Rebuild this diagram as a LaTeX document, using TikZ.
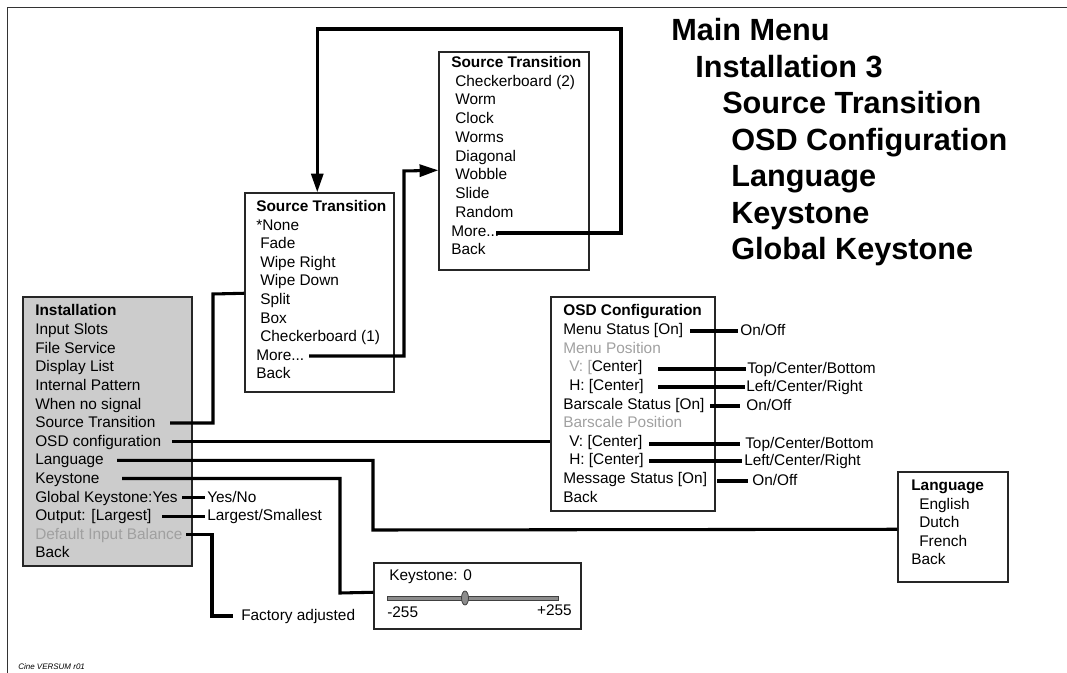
\documentclass[tikz,border=0pt]{standalone}
\usepackage{fontspec}
\setmainfont{Liberation Sans}
\usetikzlibrary{arrows.meta,calc,fit,shapes.geometric}
\definecolor{boxline}{HTML}{262626}
\definecolor{instfill}{HTML}{CCCCCC}
\definecolor{dimtext}{HTML}{A0A0A0}
\definecolor{framecol}{HTML}{333333}
\begin{document}
\begin{tikzpicture}[x=0.75pt,y=-0.75pt,
  txt/.style={inner sep=0pt, anchor=base west, font=\fontsize{11.55}{13.9}\selectfont},
  hdr/.style={txt, font=\fontsize{11.55}{13.9}\selectfont\bfseries},
  dim/.style={txt, text=dimtext},
  ttl/.style={inner sep=0pt, anchor=base west, font=\fontsize{23}{27}\selectfont\bfseries},
  menubox/.style={draw=boxline, line width=1.1pt, inner sep=0pt},
  conn/.style={line width=2.3pt, line join=miter},
  arr/.style={conn, -{Triangle[length=14pt,width=9pt]}},
]
\useasboundingbox (0,0) rectangle (1067,673);
% frame
\draw[framecol, line width=1.2pt] (7.5,673) -- (7.5,7.5) -- (1067,7.5);

% ---------------- boxes
\node[menubox, fill=instfill, fit={(23,297)(192,566)}] (inst) {};
\node[menubox, fit={(245,193)(394,392)}] (st1) {};
\node[menubox, fit={(439,52)(589,270)}] (st2) {};
\node[menubox, fit={(551,297)(715,511)}] (osd) {};
\node[menubox, fit={(898,472)(1008,582)}] (lang) {};
\node[menubox, fit={(374,563)(581,629)}] (ks) {};

% ---------------- installation
\node[hdr] (i0) at (35,316) {Installation};
\node[txt] (i1) at (35,334.6) {Input Slots};
\node[txt] (i2) at (35,353.2) {File Service};
\node[txt] (i3) at (35,371.8) {Display List};
\node[txt] (i4) at (35,390.4) {Internal Pattern};
\node[txt] (i5) at (35,409) {When no signal};
\node[txt] (i6) at (35,427.6) {Source Transition};
\node[txt] (i7) at (35,446.2) {OSD configuration};
\node[txt] (i8) at (35,464.8) {Language};
\node[txt] (i9) at (35,483.4) {Keystone};
\node[txt] (i10) at (35,502) {Global Keystone:Yes};
\node[txt] (i11) at (35,520.6) {Output: [Largest]};
\node[dim] (i12) at (35,539.2) {Default Input Balance};
\node[txt] (i13) at (35,557.8) {Back};

\node[txt] (yesno) at (207,502) {Yes/No};
\node[txt] (larg) at (207,520.6) {Largest/Smallest};
\node[txt] (fact) at (241,620.5) {Factory adjusted};

% ---------------- source transition 1
\node[hdr] (a0) at (256,211.5) {Source Transition};
\node[txt] (a1) at (256,230.1) {*None};
\node[txt] (a2) at (260,248.7) {Fade};
\node[txt] (a3) at (260,267.3) {Wipe Right};
\node[txt] (a4) at (260,285.9) {Wipe Down};
\node[txt] (a5) at (260,304.5) {Split};
\node[txt] (a6) at (260,323.1) {Box};
\node[txt] (a7) at (260,341.7) {Checkerboard (1)};
\node[txt] (a8) at (256,360.3) {More...};
\node[txt] (a9) at (256,378.9) {Back};

% ---------------- source transition 2
\node[hdr] (b0) at (451,67.5) {Source Transition};
\node[txt] (b1) at (455,86.25) {Checkerboard (2)};
\node[txt] (b2) at (455,105) {Worm};
\node[txt] (b3) at (455,123.75) {Clock};
\node[txt] (b4) at (455,142.5) {Worms};
\node[txt] (b5) at (455,161.25) {Diagonal};
\node[txt] (b6) at (455,180) {Wobble};
\node[txt] (b7) at (455,198.75) {Slide};
\node[txt] (b8) at (455,217.5) {Random};
\node[txt] (b9) at (451,236.25) {More...};
\node[txt] (b10) at (451,255) {Back};

% ---------------- OSD configuration
\node[hdr] (o0) at (563,316) {OSD Configuration};
\node[txt] (o1) at (563,334.6) {Menu Status [On]};
\node[dim] (o2) at (563,353.2) {Menu Position};
\node[txt] (o3) at (569,371.8) {{\color{dimtext}V: [}Center]};
\node[txt] (o4) at (569,390.4) {H: [Center]};
\node[txt] (o5) at (563,409) {Barscale Status [On]};
\node[dim] (o6) at (563,427.6) {Barscale Position};
\node[txt] (o7) at (569,446.2) {V: [Center]};
\node[txt] (o8) at (569,464.8) {H: [Center]};
\node[txt] (o9) at (563,483.4) {Message Status [On]};
\node[txt] (o10) at (563,502) {Back};

\node[txt] (l1) at (740,335.5) {On/Off};
\node[txt] (l3) at (747,373.5) {Top/Center/Bottom};
\node[txt] (l4) at (746,391.5) {Left/Center/Right};
\node[txt] (l5) at (746,410.5) {On/Off};
\node[txt] (l7) at (745,448.5) {Top/Center/Bottom};
\node[txt] (l8) at (744,465.5) {Left/Center/Right};
\node[txt] (l9) at (752,485.5) {On/Off};

% ---------------- language
\node[hdr] (g0) at (911,490.5) {Language};
\node[txt] (g1) at (919,509.1) {English};
\node[txt] (g2) at (919,527.7) {Dutch};
\node[txt] (g3) at (919,546.3) {French};
\node[txt] (g4) at (911,564.9) {Back};

% ---------------- keystone
\node[txt] (k0) at (389,580.5) {Keystone: 0};
\node[draw=black!75, fill=black!45, line width=0.6pt, inner sep=0pt, fit={(387,596.2)(558,600)}] (kbar) {};
\node[draw=black!75, fill=black!45, line width=0.6pt, ellipse, inner sep=0pt, minimum width=5.2pt, minimum height=10.5pt] (knob) at (465,598) {};
\node[txt] (kmin) at (387,617) {-255};
\node[txt, anchor=base east] (kmax) at (572,615) {+255};

% ---------------- titles
\node[ttl] (t0) at (671,41) {Main Menu};
\node[ttl] (t1) at (695,77.5) {Installation 3};
\node[ttl] (t2) at (722,114) {Source Transition};
\node[ttl] (t3) at (731,150.5) {OSD Configuration};
\node[ttl] (t4) at (731,187) {Language};
\node[ttl] (t5) at (731,223.5) {Keystone};
\node[ttl] (t6) at (731,260) {Global Keystone};

\node[inner sep=0pt, anchor=base west, font=\fontsize{6}{7}\selectfont\itshape] (cine) at (18,669) {Cine VERSUM r01};

% ---------------- connector coordinates
\coordinate (s6) at (170,423);
\coordinate (e6) at ($(st1.north west)+(0,101)$);
\coordinate (s7) at (172,441.5);
\coordinate (s8) at (117,460.3);
\coordinate (e8) at ($(lang.north west)+(0,58)$);
\coordinate (s9) at (122,478.5);
\coordinate (e9) at ($(ks.north west)+(0,30)$);
\coordinate (s10) at (182,497.5);
\coordinate (s11) at (162,516.1);
\coordinate (s12) at (186,534.7);
\coordinate (sa8) at (309,356);
\coordinate (ea8) at ($(st2.north west)+(0,119)$);
\coordinate (sb9) at (496,233);
\coordinate (eb9) at ($(st1.north west)+(73,0)$);

% ---------------- connectors
\draw[conn] (s6) -| (213,294) -- (e6);
\draw[conn] (s7) -- (osd.west |- s7);
\draw[conn] (s8) -| (373,530) -- (e8);
\draw[conn] (s9) -| (340,593) -- (e9);
\draw[conn] (s10) -- ($(yesno.base west)+(-2,-4.5)$);
\draw[conn] (s11) -- ($(larg.base west)+(-2,-4.5)$);
\draw[conn] (s12) -| (212,616) -- ($(fact.base west)+(-8,-4.5)$);
\draw[arr] (sa8) -| (404,171) -- (ea8);
\draw[arr] (sb9) -| (621,29) -| (eb9);

\draw[conn] (690,331) -- ($(l1.base west)+(-2,-4.5)$);
\draw[conn] (658,369) -- ($(l3.base west)+(-1,-4.5)$);
\draw[conn] (658,387) -- ($(l4.base west)+(-1,-4.5)$);
\draw[conn] (710,406) -- ($(l5.base west)+(-6,-4.5)$);
\draw[conn] (649,444) -- ($(l7.base west)+(-5,-4.5)$);
\draw[conn] (649,461) -- ($(l8.base west)+(-2,-4.5)$);
\draw[conn] (717,481) -- ($(l9.base west)+(-4,-4.5)$);
\end{tikzpicture}
\end{document}
